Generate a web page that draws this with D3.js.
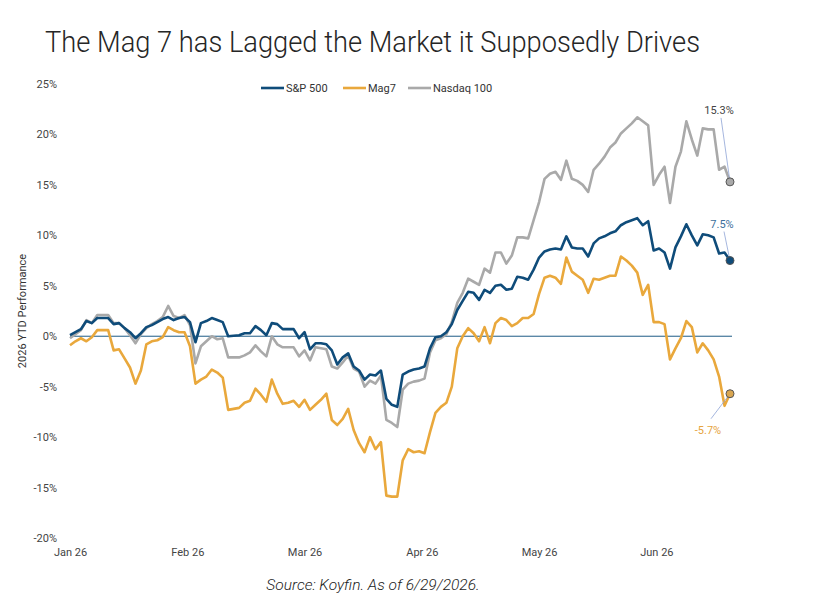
<!DOCTYPE html>
<html>
<head>
<meta charset="utf-8">
<script src="https://cdn.jsdelivr.net/npm/d3@7"></script>
<style>
  body { margin: 0; background: #fff; }
  text { font-family: Roboto, "Noto Sans", sans-serif; }
  .axis text { font-size: 11px; fill: #444; }
  .axis path { display: none; }
</style>
</head>
<body>
<div id="chart"></div>
<script>
// YTD % returns, one value per trading day (Jan 2 .. Jun 29, 2026)
const sp500 = [
  0.1, 0.4, 0.7, 1.5, 1.3, 1.8, 1.8, 1.8, 1.2, 1.3,
  0.8, 0.4, -0.2, 0.3, 0.9, 1.1, 1.4, 1.7, 1.9, 1.6,
  1.8, 1.9, 1.4, -0.6, 1.3, 1.5, 1.8, 1.6, 1.4, 0.0,
  0.05, 0.1, 0.3, 0.3, 1.0, 0.6, 0.1, 1.3, 1.2, 0.7,
  0.7, 0.7, -0.2, 0.4, -1.3, -0.7, -0.7, -0.8, -1.4, -2.8,
  -2.1, -1.7, -3.0, -3.4, -4.3, -3.8, -3.9, -3.4, -6.2, -6.8,
  -7.0, -3.8, -3.5, -3.3, -3.2, -3.0, -1.2, -0.1, 0.0, 0.4,
  1.2, 2.6, 3.5, 4.4, 4.3, 3.6, 4.6, 4.3, 5.0, 5.1,
  4.6, 4.7, 5.9, 5.8, 5.6, 6.6, 7.8, 8.4, 8.6, 8.7,
  8.6, 9.9, 8.8, 8.7, 8.7, 7.9, 9.2, 9.7, 9.9, 10.2,
  10.4, 11.0, 11.3, 11.5, 11.7, 11.0, 11.4, 8.5, 8.7, 8.3,
  6.7, 8.8, 9.9, 11.1, 10.0, 9.0, 10.1, 10.0, 9.8, 8.2,
  8.3, 7.5
];
const mag7 = [
  -0.9, -0.5, -0.2, -0.5, -0.1, 0.6, 0.6, 0.6, -1.4, -1.3,
  -2.2, -3.1, -4.7, -3.4, -0.8, -0.5, -0.4, -0.1, 0.9, 0.6,
  0.4, 0.4, -1.0, -4.7, -4.3, -4.0, -3.3, -3.6, -4.1, -7.3,
  -7.2, -7.1, -6.6, -6.4, -5.2, -5.8, -6.5, -4.3, -5.7, -6.7,
  -6.6, -6.4, -7.0, -6.3, -7.3, -6.8, -6.3, -5.7, -8.3, -8.8,
  -8.2, -7.2, -9.3, -10.6, -11.5, -10.0, -11.2, -10.5, -15.8, -15.9,
  -15.9, -12.3, -11.2, -11.5, -11.4, -11.6, -9.5, -7.6, -7.0, -6.6,
  -5.0, -1.2, 0.0, 0.8, 0.3, -0.5, 0.9, -0.7, 1.3, 1.8,
  1.6, 1.0, 1.3, 1.8, 1.8, 2.2, 4.2, 5.8, 6.0, 5.8,
  5.2, 7.8, 6.4, 6.0, 5.6, 4.3, 5.7, 5.6, 5.8, 6.0,
  6.0, 7.9, 7.5, 7.0, 6.3, 4.1, 5.1, 1.4, 1.4, 1.2,
  -2.3, -1.2, -0.2, 1.5, 0.9, -1.6, -0.7, -1.4, -2.3, -4.0,
  -6.9, -5.7
];
const nasdaq100 = [
  -0.2, 0.2, 0.6, 1.6, 1.3, 2.1, 2.1, 2.1, 1.3, 1.3,
  0.8, 0.1, -0.7, 0.2, 0.8, 1.2, 1.5, 1.9, 3.0, 2.0,
  1.8, 2.1, 1.1, -2.7, -1.0, -0.5, 0.0, -0.3, -0.2, -2.1,
  -2.1, -2.1, -1.9, -1.6, -0.9, -1.5, -2.0, 0.0, -0.8, -1.1,
  -1.1, -1.1, -2.0, -1.4, -2.4, -1.1, -1.2, -1.3, -3.0, -3.2,
  -2.6, -1.9, -3.2, -3.5, -5.0, -4.4, -4.7, -3.9, -8.3, -8.6,
  -9.0, -5.3, -4.7, -4.5, -4.4, -4.2, -1.6, -0.4, -0.2, 0.2,
  1.4, 3.3, 4.3, 5.7, 5.4, 5.1, 6.7, 6.3, 8.3, 8.3,
  7.2, 8.0, 9.8, 9.8, 9.7, 11.5, 13.3, 15.6, 16.1, 16.3,
  15.5, 17.4, 15.6, 15.4, 15.0, 14.3, 16.5, 17.1, 17.8, 18.7,
  19.2, 20.1, 20.6, 21.1, 21.7, 21.3, 20.9, 15.0, 16.0, 16.8,
  13.2, 16.8, 18.3, 21.3, 19.5, 17.9, 20.6, 20.5, 20.5, 16.5,
  16.8, 15.3
];
const seriesNames = ["S&P 500", "Mag7", "Nasdaq 100"];
const seriesColors = ["#0f4c7a", "#e9a83c", "#a9a9a9"];
const endLabels = ["7.5%", "-5.7%", "15.3%"];
const monthLabels = ["Jan 26", "Feb 26", "Mar 26", "Apr 26", "May 26", "Jun 26"];
const yTicks = [-20, -15, -10, -5, 0, 5, 10, 15, 20, 25];

const width = 820, height = 611;
const monthStep = 21.5; // trading days between axis labels

const x = d3.scaleLinear().domain([0, sp500.length - 1]).range([70, 730]);
const y = d3.scaleLinear().domain([-20, 25]).range([538, 84]);

const svg = d3.select("#chart").append("svg")
  .attr("width", width).attr("height", height);

// title
svg.append("text")
  .attr("x", 45).attr("y", 52)
  .attr("font-size", 30).attr("font-weight", 300)
  .attr("fill", "#262626")
  .attr("textLength", 655).attr("lengthAdjust", "spacingAndGlyphs")
  .text("The Mag 7 has Lagged the Market it Supposedly Drives");

// y axis
svg.append("g").attr("class", "axis")
  .attr("transform", "translate(60,0)")
  .call(d3.axisLeft(y).tickValues(yTicks).tickFormat(d => d + "%").tickSize(0).tickPadding(3));

svg.append("text")
  .attr("transform", `translate(26,${y(2.5)}) rotate(-90)`)
  .attr("text-anchor", "middle")
  .attr("font-size", 11).attr("fill", "#333")
  .text("2026 YTD Performance");

// x axis
svg.append("g").attr("class", "axis")
  .attr("transform", "translate(0,545)")
  .call(d3.axisBottom(x)
    .tickValues(monthLabels.map((m, i) => i * monthStep))
    .tickFormat((d, i) => monthLabels[i]).tickSize(0).tickPadding(3));

// zero line
svg.append("line")
  .attr("x1", x(0)).attr("x2", x(sp500.length - 1) + 2)
  .attr("y1", y(0)).attr("y2", y(0))
  .attr("stroke", "#1d5a85").attr("stroke-width", 1);

const line = d3.line().x((d, i) => x(i)).y(d => y(d));
const allSeries = [sp500, mag7, nasdaq100];

// draw Nasdaq first, S&P last (on top)
[2, 1, 0].forEach(k => {
  svg.append("path")
    .datum(allSeries[k])
    .attr("fill", "none")
    .attr("stroke", seriesColors[k])
    .attr("stroke-width", 2.6)
    .attr("stroke-linejoin", "round")
    .attr("d", line);
});

// end markers and labels
const labelPos = [
  {dx: -8, dy: -36, lx: -6, ly: -29},
  {dx: -22, dy: 36, lx: -19, ly: 25},
  {dx: -11, dy: -72, lx: -9, ly: -64}
];
const markerFill = ["#0f4c7a", "#d9a651", "#a9a9a9"];
const labelColor = ["#3b6f9b", "#e6a43e", "#444"];
allSeries.forEach((s, k) => {
  const last = s.length - 1;
  const cx = x(last), cy = y(s[last]);
  const p = labelPos[k];
  svg.append("line")
    .attr("x1", cx + p.lx).attr("y1", cy + p.ly)
    .attr("x2", cx).attr("y2", cy)
    .attr("stroke", "#8ea3d6").attr("stroke-width", 0.8);
  svg.append("circle")
    .attr("cx", cx).attr("cy", cy).attr("r", 4)
    .attr("fill", markerFill[k]).attr("stroke", "#555").attr("stroke-width", 1);
  svg.append("text")
    .attr("x", cx + p.dx).attr("y", cy + p.dy)
    .attr("text-anchor", "middle").attr("dy", "0.35em")
    .attr("font-size", 11).attr("fill", labelColor[k])
    .text(endLabels[k]);
});

// legend
const legendX = [261, 343, 408];
const legend = svg.append("g").attr("transform", "translate(0,88)");
seriesNames.forEach((name, k) => {
  legend.append("line")
    .attr("x1", legendX[k]).attr("x2", legendX[k] + 23)
    .attr("stroke", seriesColors[k]).attr("stroke-width", 2.6);
  legend.append("text")
    .attr("x", legendX[k] + 25).attr("dy", "0.35em")
    .attr("font-size", 11).attr("fill", "#333")
    .text(name);
});

// source note
svg.append("text")
  .attr("x", 373).attr("y", 590)
  .attr("text-anchor", "middle")
  .attr("font-size", 15.5).attr("font-style", "italic").attr("font-weight", 300)
  .attr("fill", "#222")
  .text("Source: Koyfin. As of 6/29/2026.");
</script>
</body>
</html>
